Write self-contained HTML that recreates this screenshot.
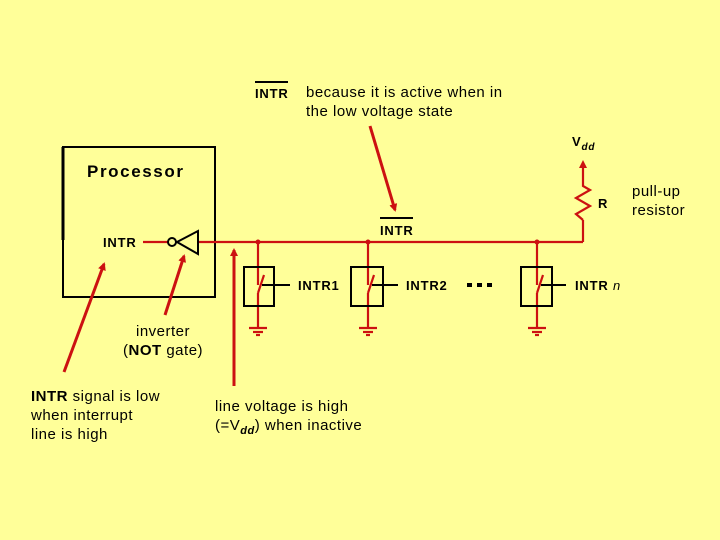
<!DOCTYPE html>
<html><head><meta charset="utf-8"><style>
html,body{margin:0;padding:0;background:#ffff99;}
svg{display:block}
text{font-family:"Liberation Sans",Arial,sans-serif;fill:#000}
</style></head><body>
<svg width="720" height="540" viewBox="0 0 720 540" xmlns="http://www.w3.org/2000/svg">
<defs>
<marker id="ah" markerWidth="8" markerHeight="8" refX="6" refY="4" orient="auto" markerUnits="userSpaceOnUse">
<path d="M0,0 L8,4 L0,8 Z" fill="#cc1111"/></marker>
</defs>
<rect width="720" height="540" fill="#ffff99"/>
<rect x="63" y="147" width="152" height="150" fill="none" stroke="#000" stroke-width="2"/>
<line x1="63" y1="147" x2="63" y2="240" stroke="#000" stroke-width="3"/>
<text x="87" y="177" font-size="17" font-weight="bold" letter-spacing="1.6">Processor</text>
<text x="103" y="247" font-size="13" font-weight="bold" letter-spacing="0.8">INTR</text>
<g stroke="#cc1111" stroke-width="2.2" fill="none">
<line x1="143" y1="242" x2="168" y2="242"/>
<line x1="198" y1="242" x2="583" y2="242"/>
<line x1="583" y1="242" x2="583" y2="220"/>
<polyline points="583,220 576,214 590,206 576,198 590,190 583,186 583,168"/>
<line x1="258" y1="242" x2="258" y2="285"/><line x1="258" y1="293" x2="258" y2="328"/>
<line x1="368" y1="242" x2="368" y2="285"/><line x1="368" y1="293" x2="368" y2="328"/>
<line x1="537" y1="242" x2="537" y2="285"/><line x1="537" y1="293" x2="537" y2="328"/>
<line x1="249" y1="328" x2="267" y2="328"/><line x1="253" y1="332" x2="263" y2="332"/><line x1="256" y1="335" x2="260" y2="335"/>
<line x1="359" y1="328" x2="377" y2="328"/><line x1="363" y1="332" x2="373" y2="332"/><line x1="366" y1="335" x2="370" y2="335"/>
<line x1="528" y1="328" x2="546" y2="328"/><line x1="532" y1="332" x2="542" y2="332"/><line x1="535" y1="335" x2="539" y2="335"/>
<line x1="258" y1="293" x2="264" y2="275"/>
<line x1="368" y1="293" x2="374" y2="275"/>
<line x1="537" y1="293" x2="543" y2="275"/>
</g>
<g fill="#cc1111"><circle cx="258" cy="242" r="2.5"/><circle cx="368" cy="242" r="2.5"/><circle cx="537" cy="242" r="2.5"/>
<path d="M583,160 L579,168 L587,168 Z"/></g>
<circle cx="172" cy="242" r="4" fill="none" stroke="#000" stroke-width="2"/>
<path d="M177,242 L198,231 L198,254 Z" fill="none" stroke="#000" stroke-width="2"/>
<g fill="none" stroke="#000" stroke-width="2">
<rect x="244" y="267" width="30" height="39"/>
<rect x="351" y="267" width="32" height="39"/>
<rect x="521" y="267" width="31" height="39"/>
<line x1="262" y1="285" x2="290" y2="285"/>
<line x1="372" y1="285" x2="398" y2="285"/>
<line x1="541" y1="285" x2="566" y2="285"/>
</g>
<g font-size="13" font-weight="bold" letter-spacing="0.8">
<text x="298" y="290">INTR1</text>
<text x="406" y="290">INTR2</text>
<text x="575" y="290">INTR<tspan font-style="italic" font-weight="normal"> n</tspan></text>
<text x="380" y="235">INTR</text>
<text x="598" y="208">R</text>
<text x="572" y="146">V<tspan font-size="10" font-style="italic" dy="4">dd</tspan></text>
<text x="255" y="98">INTR</text>
</g>
<line x1="380" y1="218" x2="413" y2="218" stroke="#000" stroke-width="2"/>
<line x1="255" y1="82" x2="288" y2="82" stroke="#000" stroke-width="2"/>
<g fill="#000"><rect x="467" y="283" width="5" height="4"/><rect x="477" y="283" width="5" height="4"/><rect x="487" y="283" width="5" height="4"/></g>
<g stroke="#cc1111" stroke-width="3" fill="none" marker-end="url(#ah)">
<line x1="370" y1="126" x2="395" y2="210"/>
<line x1="64" y1="372" x2="104" y2="264"/>
<line x1="165" y1="315" x2="184" y2="256"/>
<line x1="234" y1="386" x2="234" y2="250"/>
</g>
<g font-size="15" letter-spacing="0.5">
<text x="306" y="97">because it is active when in</text>
<text x="306" y="116">the low voltage state</text>
<text x="632" y="196">pull-up</text>
<text x="632" y="215">resistor</text>
<text x="136" y="336">inverter</text>
<text x="123" y="355">(<tspan font-weight="bold">NOT</tspan> gate)</text>
<text x="31" y="401"><tspan font-weight="bold">INTR</tspan> signal is low</text>
<text x="31" y="420">when interrupt</text>
<text x="31" y="439">line is high</text>
<text x="215" y="411">line voltage is high</text>
<text x="215" y="430">(=V<tspan font-size="11" font-weight="bold" font-style="italic" dy="4">dd</tspan><tspan dy="-4">) when inactive</tspan></text>
</g>
</svg>
</body></html>
